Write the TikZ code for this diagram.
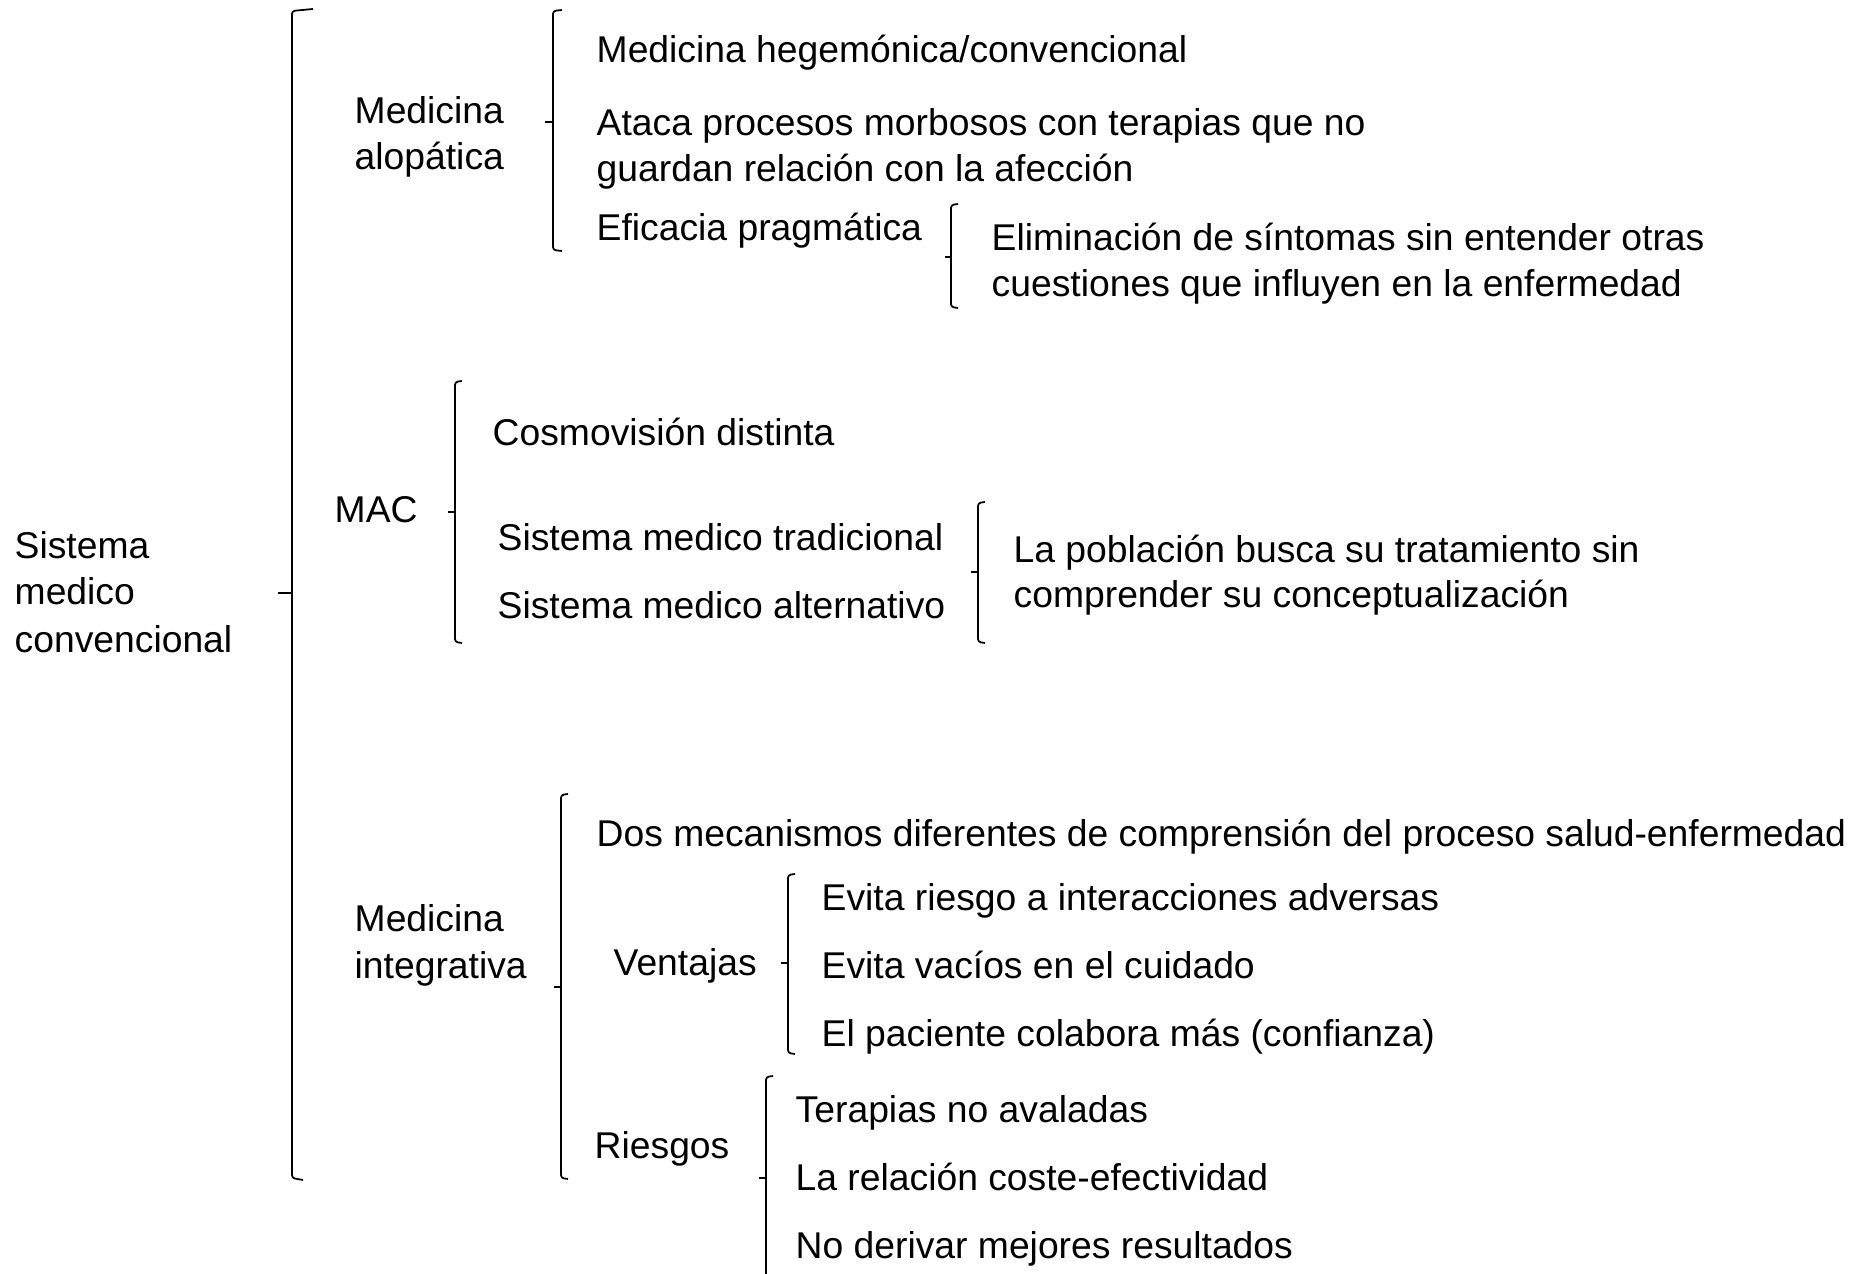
\documentclass[tikz,border=0pt]{standalone}
\usepackage{fontspec}
\setmainfont{Liberation Sans}
\tikzset{
    texto/.style={anchor=base west, inner sep=0pt, font=\fontsize{10.6}{12.7}\selectfont},
    llave/.style={line width=0.5pt, rounded corners=0.8pt}
}

\begin{document}
\begin{tikzpicture}[x=0.01cm, y=-0.01cm]
    \useasboundingbox (0,0) rectangle (1869,1274);

    % Raiz
    \node[texto] (sis1) at (14,559) {Sistema};
    \node[texto] (sis2) at (14,605) {medico};
    \node[texto] (sis3) at (14,653) {convencional};

    % Llave principal
    \draw[llave] (313,9) -- (292,11) -- (292,1178) -- (303,1180);
    \draw[line width=0.5pt] (292,593) -- (278,593);

    % MEDICINA ALOPATICA
    \node[texto] (alo1) at (354,124) {Medicina};
    \node[texto] (alo2) at (354,170) {alopática};
    \draw[llave] (562,10) -- (553,11) -- (553,250) -- (562,251);
    \draw[line width=0.5pt] (553,122) -- (545,122);
    \node[texto] (hege) at (596,63) {Medicina hegemónica/convencional};
    \node[texto] (ataca1) at (596,136) {Ataca procesos morbosos con terapias que no};
    \node[texto] (ataca2) at (596,182) {guardan relación con la afección};
    \node[texto] (eficacia) at (596,241) {Eficacia pragmática};
    \draw[llave] (958,204) -- (951,205) -- (951,307) -- (958,308);
    \draw[line width=0.5pt] (951,257) -- (945,257);
    \node[texto] (elim1) at (991,251) {Eliminación de síntomas sin entender otras};
    \node[texto] (elim2) at (991,297) {cuestiones que influyen en la enfermedad};

    % MAC
    \node[texto] (mac) at (334,523) {MAC};
    \draw[llave] (462,381) -- (455,382) -- (455,642) -- (462,643);
    \draw[line width=0.5pt] (455,512) -- (448,512);
    \node[texto] (cosmo) at (492,446) {Cosmovisión distinta};
    \node[texto] (trad) at (497,551) {Sistema medico tradicional};
    \node[texto] (alter) at (497,619) {Sistema medico alternativo};
    \draw[llave] (985,502) -- (978,503) -- (978,642) -- (985,643);
    \draw[line width=0.5pt] (978,572) -- (971,572);
    \node[texto] (pob1) at (1013,563) {La población busca su tratamiento sin};
    \node[texto] (pob2) at (1013,608) {comprender su conceptualización};

    % MEDICINA INTEGRATIVA
    \node[texto] (int1) at (354,932) {Medicina};
    \node[texto] (int2) at (354,979) {integrativa};
    \draw[llave] (568,794) -- (561,795) -- (561,1178) -- (568,1179);
    \draw[line width=0.5pt] (561,987) -- (554,987);
    \node[texto] (dos) at (596,847) {Dos mecanismos diferentes de comprensión del proceso salud-enfermedad};

    % Ventajas
    \node[texto] (vent) at (613,976) {Ventajas};
    \draw[llave] (795,874) -- (788,875) -- (788,1053) -- (795,1054);
    \draw[line width=0.5pt] (788,963) -- (781,963);
    \node[texto] (v1) at (821,911) {Evita riesgo a interacciones adversas};
    \node[texto] (v2) at (821,979) {Evita vacíos en el cuidado};
    \node[texto] (v3) at (821,1047) {El paciente colabora más (confianza)};

    % Riesgos
    \node[texto] (ries) at (594,1159) {Riesgos};
    \draw[llave] (773,1076) -- (766,1077) -- (766,1274);
    \draw[line width=0.5pt] (766,1178) -- (759,1178);
    \node[texto] (r1) at (795,1123) {Terapias no avaladas};
    \node[texto] (r2) at (795,1191) {La relación coste-efectividad};
    \node[texto] (r3) at (795,1259) {No derivar mejores resultados};
\end{tikzpicture}
\end{document}
